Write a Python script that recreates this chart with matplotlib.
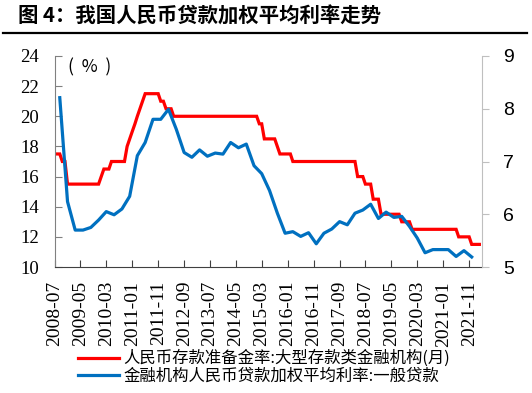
import numpy as np
import pandas as pd
import matplotlib
matplotlib.use("Agg")
import matplotlib.pyplot as plt
from matplotlib.lines import Line2D

# 人民币存款准备金率: 大型存款类金融机构 (月), 2008-07 .. 2022-03
rrr_start = "2008-07"
rrr = [17.5, 17.5, 17.5, 17.0, 17.0, 15.5,                                   # 2008
       15.5, 15.5, 15.5, 15.5, 15.5, 15.5, 15.5, 15.5, 15.5, 15.5, 15.5, 15.5,  # 2009
       16.0, 16.5, 16.5, 16.5, 17.0, 17.0, 17.0, 17.0, 17.0, 17.0, 18.0, 18.5,  # 2010
       19.0, 19.5, 20.0, 20.5, 21.0, 21.5, 21.5, 21.5, 21.5, 21.5, 21.5, 21.0,  # 2011
       21.0, 20.5, 20.5, 20.5, 20.0, 20.0, 20.0, 20.0, 20.0, 20.0, 20.0, 20.0,  # 2012
       20.0, 20.0, 20.0, 20.0, 20.0, 20.0, 20.0, 20.0, 20.0, 20.0, 20.0, 20.0,  # 2013
       20.0, 20.0, 20.0, 20.0, 20.0, 20.0, 20.0, 20.0, 20.0, 20.0, 20.0, 20.0,  # 2014
       20.0, 19.5, 19.5, 18.5, 18.5, 18.5, 18.5, 18.5, 18.0, 17.5, 17.5, 17.5,  # 2015
       17.5, 17.5, 17.0, 17.0, 17.0, 17.0, 17.0, 17.0, 17.0, 17.0, 17.0, 17.0,  # 2016
       17.0, 17.0, 17.0, 17.0, 17.0, 17.0, 17.0, 17.0, 17.0, 17.0, 17.0, 17.0,  # 2017
       17.0, 17.0, 17.0, 16.0, 16.0, 16.0, 15.5, 15.5, 15.5, 14.5, 14.5, 14.5,  # 2018
       13.5, 13.5, 13.5, 13.5, 13.5, 13.5, 13.5, 13.5, 13.0, 13.0, 13.0, 13.0,  # 2019
       12.5, 12.5, 12.5, 12.5, 12.5, 12.5, 12.5, 12.5, 12.5, 12.5, 12.5, 12.5,  # 2020
       12.5, 12.5, 12.5, 12.5, 12.5, 12.5, 12.0, 12.0, 12.0, 12.0, 12.0, 11.5,  # 2021
       11.5, 11.5, 11.5]                                                       # 2022

# 金融机构人民币贷款加权平均利率: 一般贷款 (季), 2008-09 .. 2021-12
loan_start = "2008-09"
loan = [8.21, 6.24,
        5.70, 5.70, 5.75, 5.89,
        6.05, 5.99, 6.10, 6.34,
        7.11, 7.36, 7.80, 7.80,
        7.99, 7.61, 7.17, 7.08,
        7.22, 7.10, 7.16, 7.14,
        7.36, 7.26, 7.33, 6.92,
        6.77, 6.45, 6.02, 5.64,
        5.67, 5.58, 5.65, 5.44,
        5.64, 5.72, 5.86, 5.80,
        6.02, 6.08, 6.19, 5.92,
        6.04, 5.94, 5.96, 5.77,
        5.55, 5.27, 5.33, 5.33,
        5.33, 5.20, 5.31, 5.19]

tick_labels = ["2008-07", "2009-05", "2010-03", "2011-01", "2011-11", "2012-09",
               "2013-07", "2014-05", "2015-03", "2016-01", "2016-11", "2017-09",
               "2018-07", "2019-05", "2020-03", "2021-01", "2021-11"]

label_red = "人民币存款准备金率:大型存款类金融机构(月)"
label_blue = "金融机构人民币贷款加权平均利率:一般贷款"
title = "图 4：我国人民币贷款加权平均利率走势"

cjk = ["Noto Sans CJK SC", "DejaVu Sans"]
serif = "Liberation Serif"

rrr_x = pd.date_range(rrr_start, periods=len(rrr), freq="MS")
loan_x = pd.date_range(loan_start, periods=len(loan), freq="3MS")
ticks = pd.to_datetime(tick_labels)

fig = plt.figure(figsize=(5.32, 3.93), dpi=100)
ax = fig.add_axes([54.5 / 532, 1 - 267 / 393, (482 - 54.5) / 532, (267 - 56) / 393])
ax2 = ax.twinx()

red = "#FF0000"
blue = "#0070C0"
ax.plot(rrr_x, rrr, color=red, lw=2.3, solid_joinstyle="miter")
ax2.plot(loan_x, loan, color=blue, lw=2.3)

ax.set_xlim(pd.Timestamp("2008-07-01"), pd.Timestamp("2022-04-01"))
ax.set_ylim(10, 24)
ax.set_yticks(range(10, 25, 2))
ax2.set_ylim(5, 9)
ax2.set_yticks(range(5, 10))

ax.set_xticks(ticks)
ax.set_xticklabels(tick_labels, rotation=90, fontfamily=serif, fontsize=14)
for lab in ax.get_yticklabels():
    lab.set_fontfamily(serif)
    lab.set_fontsize(13.5)
for lab in ax2.get_yticklabels():
    lab.set_fontfamily("Liberation Sans")
    lab.set_fontsize(14)

ax.tick_params(axis="x", direction="in", length=5, width=0.8, color="#404040", pad=10)
ax.tick_params(axis="y", direction="in", length=5, width=0.8, color="#808080", pad=11)
ax2.tick_params(axis="y", direction="out", length=5, width=0.8, color="#BFBFBF", pad=10)

for a in (ax, ax2):
    a.spines["top"].set_visible(False)
ax.spines["left"].set_color("#808080")
ax.spines["bottom"].set_color("#404040")
ax2.spines["right"].set_color("#BFBFBF")
ax2.spines["left"].set_visible(False)
ax2.spines["bottom"].set_visible(False)
ax.spines["right"].set_visible(False)

ax.text(0.083, 0.948, "(  %  )", transform=ax.transAxes, ha="center", va="center",
        fontsize=12.5, family=cjk)

fig.text(18 / 532, 1 - 16 / 393, title, fontsize=14.7, fontweight="bold",
         family=cjk, ha="left", va="center")
fig.add_artist(Line2D([3 / 532, 527 / 532], [1 - 33 / 393] * 2, color="black", lw=1.6))

handles = [Line2D([], [], color=red, lw=2.3), Line2D([], [], color=blue, lw=2.3)]
fig.legend(handles, [label_red, label_blue], loc="upper left",
           bbox_to_anchor=(78 / 532, 1 - 350 / 393), frameon=False,
           prop={"family": cjk, "size": 11.8}, handlelength=2.5, handletextpad=0.25,
           borderpad=0, borderaxespad=0, labelspacing=0.0)

fig.savefig("out.png", dpi=100)
